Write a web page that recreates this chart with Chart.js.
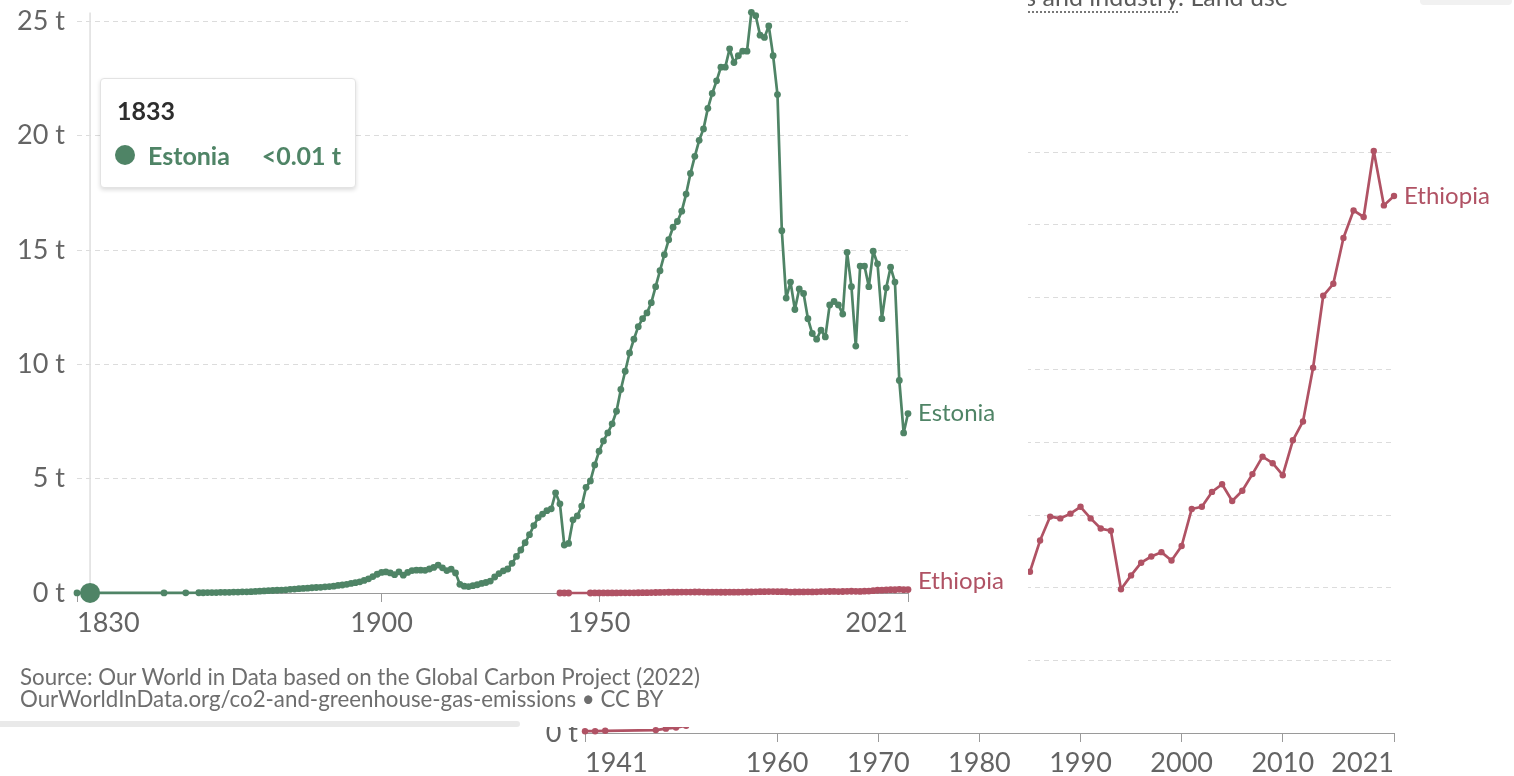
<!DOCTYPE html>
<html>
<head>
<meta charset="utf-8">
<script src="https://cdn.jsdelivr.net/npm/chart.js@4.4.1/dist/chart.umd.min.js"></script>
<style>
  html, body { margin: 0; padding: 0; background: #fff; }
  body { width: 1514px; height: 776px; position: relative; overflow: hidden; font-family: Lato, sans-serif; }
  #zoomChart { position: absolute; left: 0; top: 0; z-index: 0; }
  #subtitle { position: absolute; right: 226px; top: -16px; z-index: 0; font-size: 25px; line-height: 24px; color: #5b5b5b; white-space: nowrap; }
  #subtitle .term { border-bottom: 2px dotted #777; }
  #topBtn { position: absolute; left: 1420px; top: -20px; width: 92px; height: 25px; background: #f1f1f1; border-radius: 4px; z-index: 0; }
  #mainChart { position: absolute; left: 0; top: 0; z-index: 1; background: #fff; }
  #greyBar { position: absolute; left: 0; top: 721px; width: 520px; height: 6px; background: #e9e9e9; border-radius: 0 3px 3px 0; z-index: 2; }
  #source { position: absolute; left: 20px; top: 666px; z-index: 2; font-size: 22.3px; line-height: 22px; color: #6e6e6e; }
  #tip { position: absolute; left: 100px; top: 78px; width: 256px; height: 110px; box-sizing: border-box; background: #fff; border: 1px solid #e3e3e3; border-radius: 4px; box-shadow: 0 2px 4px rgba(0,0,0,0.14); z-index: 2; }
  #tip .year { position: absolute; left: 16px; top: 19px; font-size: 25px; line-height: 25px; font-weight: 700; color: #2d2d2d; }
  #tip .dot { position: absolute; left: 14px; top: 66px; width: 20px; height: 20px; border-radius: 50%; }
  #tip .name { position: absolute; left: 47px; top: 64px; font-size: 25px; line-height: 25px; font-weight: 700; }
  #tip .val { position: absolute; right: 14px; top: 64px; font-size: 25px; line-height: 25px; font-weight: 700; }
</style>
</head>
<body>
<canvas id="zoomChart" width="1514" height="776"></canvas>
<div id="subtitle"><span class="term">fossil fuels and industry</span>. Land use</div>
<div id="topBtn"></div>
<canvas id="mainChart" width="1028" height="727"></canvas>
<div id="greyBar"></div>
<div id="source">Source: Our World in Data based on the Global Carbon Project (2022)<br>OurWorldInData.org/co2-and-greenhouse-gas-emissions • CC BY</div>
<div id="tip">
  <div class="year">1833</div>
  <div class="dot"></div>
  <div class="name">Estonia</div>
  <div class="val">&lt;0.01 t</div>
</div>
<script>
// CO2 emissions per capita, tonnes
const estoniaYears = [
  1830, 1833, 1850, 1855, 1858, 1859,
  1860, 1861, 1862, 1863, 1864, 1865, 1866, 1867, 1868, 1869,
  1870, 1871, 1872, 1873, 1874, 1875, 1876, 1877, 1878, 1879,
  1880, 1881, 1882, 1883, 1884, 1885, 1886, 1887, 1888, 1889,
  1890, 1891, 1892, 1893, 1894, 1895, 1896, 1897, 1898, 1899,
  1900, 1901, 1902, 1903, 1904, 1905, 1906, 1907, 1908, 1909,
  1910, 1911, 1912, 1913, 1914, 1915, 1916, 1917, 1918, 1919,
  1920, 1921, 1922, 1923, 1924, 1925, 1926, 1927, 1928, 1929,
  1930, 1931, 1932, 1933, 1934, 1935, 1936, 1937, 1938, 1939,
  1940, 1941, 1942, 1943, 1944, 1945, 1946, 1947, 1948, 1949,
  1950, 1951, 1952, 1953, 1954, 1955, 1956, 1957, 1958, 1959,
  1960, 1961, 1962, 1963, 1964, 1965, 1966, 1967, 1968, 1969,
  1970, 1971, 1972, 1973, 1974, 1975, 1976, 1977, 1978, 1979,
  1980, 1981, 1982, 1983, 1984, 1985, 1986, 1987, 1988, 1989,
  1990, 1991, 1992, 1993, 1994, 1995, 1996, 1997, 1998, 1999,
  2000, 2001, 2002, 2003, 2004, 2005, 2006, 2007, 2008, 2009,
  2010, 2011, 2012, 2013, 2014, 2015, 2016, 2017, 2018, 2019,
  2020, 2021
];
const estoniaValues = [
  0.004, 0.004, 0.005, 0.007, 0.01, 0.01,
  0.02, 0.02, 0.02, 0.03, 0.03, 0.03, 0.04, 0.04, 0.05, 0.05,
  0.06, 0.07, 0.08, 0.09, 0.10, 0.11, 0.12, 0.13, 0.14, 0.16,
  0.17, 0.19, 0.20, 0.21, 0.23, 0.24, 0.25, 0.27, 0.28, 0.30,
  0.33, 0.35, 0.38, 0.42, 0.45, 0.49, 0.55, 0.62, 0.72, 0.82,
  0.90, 0.92, 0.88, 0.80, 0.92, 0.78, 0.90, 0.98, 1.00, 1.00,
  0.99, 1.05, 1.12, 1.22, 1.10, 0.98, 1.04, 0.88, 0.38, 0.30,
  0.28, 0.32, 0.36, 0.42, 0.46, 0.52, 0.70, 0.85, 0.97, 1.05,
  1.30, 1.60, 1.88, 2.20, 2.55, 2.95, 3.30, 3.45, 3.60, 3.68,
  4.38, 3.90, 2.10, 2.17, 3.20, 3.37, 3.80, 4.62, 4.90, 5.60,
  6.20, 6.65, 7.00, 7.40, 7.95, 8.90, 9.70, 10.50, 11.10, 11.65,
  12.00, 12.25, 12.70, 13.40, 14.10, 14.80, 15.45, 16.00, 16.25, 16.70,
  17.45, 18.35, 19.10, 19.80, 20.30, 21.20, 21.85, 22.40, 23.00, 23.00,
  23.80, 23.20, 23.50, 23.70, 23.70, 25.40, 25.25, 24.40, 24.30, 24.80,
  23.50, 21.80, 15.85, 12.90, 13.60, 12.40, 13.30, 13.10, 12.00, 11.35,
  11.10, 11.50, 11.20, 12.60, 12.75, 12.60, 12.20, 14.90, 13.40, 10.80,
  14.30, 14.30, 13.40, 14.95, 14.40, 12.00, 13.35, 14.25, 13.60, 9.30,
  7.00, 7.85
];

const ethiopiaYears = [
  1941, 1942, 1943, 1948, 1949,
  1950, 1951, 1952, 1953, 1954, 1955, 1956, 1957, 1958, 1959,
  1960, 1961, 1962, 1963, 1964, 1965, 1966, 1967, 1968, 1969,
  1970, 1971, 1972, 1973, 1974, 1975, 1976, 1977, 1978, 1979,
  1980, 1981, 1982, 1983, 1984, 1985, 1986, 1987, 1988, 1989,
  1990, 1991, 1992, 1993, 1994, 1995, 1996, 1997, 1998, 1999,
  2000, 2001, 2002, 2003, 2004, 2005, 2006, 2007, 2008, 2009,
  2010, 2011, 2012, 2013, 2014, 2015, 2016, 2017, 2018, 2019,
  2020, 2021
];
const ethiopiaValues = [
  0.0005, 0.0005, 0.0006, 0.0008, 0.0012,
  0.0015, 0.002, 0.003, 0.004, 0.005, 0.006, 0.007, 0.008, 0.009, 0.011,
  0.013, 0.016, 0.018, 0.021, 0.024, 0.028, 0.032, 0.035, 0.038, 0.040,
  0.042, 0.041, 0.043, 0.044, 0.039, 0.037, 0.036, 0.035, 0.032, 0.033,
  0.034, 0.035, 0.037, 0.039, 0.043, 0.0444, 0.053, 0.0596, 0.0591, 0.0604,
  0.0623, 0.0591, 0.0563, 0.0557, 0.0396, 0.0434, 0.0469, 0.0486, 0.0498, 0.0475,
  0.0515, 0.0617, 0.0623, 0.0664, 0.0685, 0.0639, 0.0667, 0.0713, 0.0761, 0.0743,
  0.071, 0.0806, 0.0858, 0.1006, 0.1204, 0.1237, 0.1363, 0.1439, 0.1421, 0.1603,
  0.1453, 0.1479
];

const mainXTicks = [1830, 1900, 1950, 2021];
const mainYTicks = [0, 5, 10, 15, 20, 25];
const zoomXTicks = [1941, 1960, 1970, 1980, 1990, 2000, 2010, 2021];
const zoomYTicks = [0, 0.02, 0.04, 0.06, 0.08, 0.1, 0.12, 0.14, 0.16];
const hoverYear = 1833;

const green = '#4f8466';
const red = '#b05264';
const textGrey = '#646464';
const tickFont = { family: 'Lato', size: 27 };

document.querySelector('#tip .dot').style.background = green;
document.querySelector('#tip .name').style.color = green;
document.querySelector('#tip .val').style.color = green;

function toPoints(xs, ys) {
  return xs.map((x, i) => ({ x: x, y: ys[i] }));
}

// series name written just right of the last point
const endLabels = {
  id: 'endLabels',
  afterDatasetsDraw(chart) {
    const ctx = chart.ctx;
    chart.data.datasets.forEach((ds, i) => {
      const meta = chart.getDatasetMeta(i);
      const pt = meta.data[meta.data.length - 1];
      ctx.save();
      ctx.font = '24px Lato';
      ctx.fillStyle = ds.borderColor;
      ctx.textBaseline = 'middle';
      ctx.fillText(ds.label, pt.x + 10, pt.y + (ds.labelDy || 0));
      ctx.restore();
    });
  }
};

// grey vertical line at the hovered year
const hoverLine = {
  id: 'hoverLine',
  beforeDatasetsDraw(chart) {
    const ctx = chart.ctx;
    const x = chart.scales.x.getPixelForValue(hoverYear);
    const top = chart.scales.y.getPixelForValue(mainYTicks[mainYTicks.length - 1]) - 9;
    ctx.save();
    ctx.strokeStyle = '#dedede';
    ctx.lineWidth = 1.5;
    ctx.beginPath();
    ctx.moveTo(x, top);
    ctx.lineTo(x, chart.chartArea.bottom);
    ctx.stroke();
    ctx.restore();
  }
};

function xAxis(min, max, ticks, height) {
  return {
    type: 'linear',
    min: min,
    max: max,
    afterBuildTicks: s => { s.ticks = ticks.map(v => ({ value: v })); },
    afterFit: s => { s.height = height; },
    ticks: {
      align: 'inner', autoSkip: false, maxRotation: 0, padding: 5,
      color: textGrey, font: tickFont,
      callback: v => String(v)
    },
    grid: { drawOnChartArea: false, drawTicks: true, tickLength: 9, color: '#9a9a9a' },
    border: { display: true, color: '#9a9a9a', width: 1 }
  };
}

function yAxis(max, ticks, width, pad, fmt) {
  return {
    min: 0,
    max: max,
    afterBuildTicks: s => { s.ticks = ticks.map(v => ({ value: v })); },
    afterFit: s => {
      s.width = width;
      s.paddingTop = 0;
      s.paddingBottom = 0;
    },
    ticks: { padding: pad, color: textGrey, font: tickFont, callback: fmt },
    grid: { color: '#dcdcdc', drawTicks: false, lineWidth: 1 },
    border: { display: false, dash: [5, 4] }
  };
}

const lineStyle = {
  borderWidth: 2.7,
  borderJoinStyle: 'round',
  borderCapStyle: 'round',
  pointBorderWidth: 0,
  tension: 0,
  clip: false
};

function draw() {
  // zoomed Ethiopia view (partly hidden behind the main panel)
  new Chart(document.getElementById('zoomChart'), {
    type: 'line',
    data: {
      datasets: [Object.assign({
        label: 'Ethiopia',
        data: toPoints(ethiopiaYears, ethiopiaValues),
        borderColor: red,
        backgroundColor: red,
        pointRadius: 3.2
      }, lineStyle)]
    },
    options: {
      responsive: false,
      animation: false,
      events: [],
      layout: { padding: { left: 0, right: 120, top: 152, bottom: 0 } },
      plugins: { legend: { display: false }, tooltip: { enabled: false } },
      scales: {
        x: xAxis(1941, 2021, zoomXTicks, 43),
        y: yAxis(0.16, zoomYTicks, 585, 7, v => (v === 0 ? '0' : v.toFixed(2)) + ' t')
      }
    },
    plugins: [endLabels]
  });

  // main chart: Estonia and Ethiopia since 1830
  new Chart(document.getElementById('mainChart'), {
    type: 'line',
    data: {
      datasets: [Object.assign({
        label: 'Estonia',
        data: toPoints(estoniaYears, estoniaValues),
        borderColor: green,
        backgroundColor: green,
        pointRadius: c => (c.raw && c.raw.x === hoverYear ? 10 : 3.4),
        labelDy: 0
      }, lineStyle), Object.assign({
        label: 'Ethiopia',
        data: toPoints(ethiopiaYears, ethiopiaValues),
        borderColor: red,
        backgroundColor: red,
        pointRadius: 3.4,
        labelDy: -8
      }, lineStyle)]
    },
    options: {
      responsive: false,
      animation: false,
      events: [],
      layout: { padding: { left: 0, right: 120, top: 10, bottom: 0 } },
      plugins: { legend: { display: false }, tooltip: { enabled: false } },
      scales: {
        x: xAxis(1830, 2021, mainXTicks, 134),
        y: yAxis(25.5, mainYTicks, 77, 12, v => v + ' t')
      }
    },
    plugins: [hoverLine, endLabels]
  });
}

document.fonts.load('27px Lato').then(draw, draw);
</script>
</body>
</html>
